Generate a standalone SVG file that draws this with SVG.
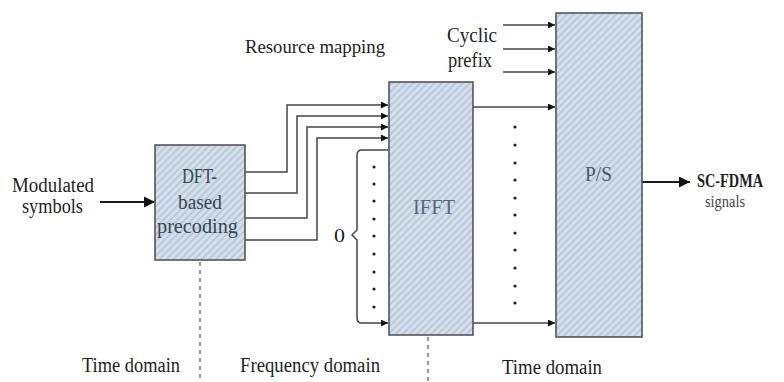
<svg xmlns="http://www.w3.org/2000/svg" width="784" height="382" viewBox="0 0 784 382" font-family="'Liberation Serif', 'Times New Roman', serif">
<style>
text{font-family:'Liberation Serif','Times New Roman',serif;fill:#1e1e1e}
.box{fill:url(#hatch);stroke:#555;stroke-width:1.6}
.c{fill:none;stroke:#444;stroke-width:1.5;marker-end:url(#ah)}
.big{fill:none;stroke:#1a1a1a;stroke-width:2.2;marker-end:url(#ahb)}
.dash{fill:none;stroke:#666;stroke-width:1.3;stroke-dasharray:4 4}
.dot{fill:#222}
</style>
<defs>
<pattern id="hatch" patternUnits="userSpaceOnUse" width="5" height="5" patternTransform="rotate(45)">
<rect width="5" height="5" fill="#d3dfeb"/>
<line x1="1" y1="0" x2="1" y2="5" stroke="#a9bccf" stroke-width="1.2"/>
</pattern>
<marker id="ah" viewBox="0 0 10 10" refX="10" refY="5" markerWidth="7" markerHeight="7" orient="auto" markerUnits="userSpaceOnUse">
<path d="M0,0 L10,5 L0,10 z" fill="#111"/>
</marker>
<marker id="ahb" viewBox="0 0 10 10" refX="10" refY="5" markerWidth="13" markerHeight="11" orient="auto" markerUnits="userSpaceOnUse">
<path d="M0,0 L10,5 L0,10 z" fill="#111"/>
</marker>
</defs>

<g id="connectors">
<path class="big" d="M100,202 H155"/>
<path class="c" d="M245,172 H287 V105 H388"/>
<path class="c" d="M245,193 H297 V116 H388"/>
<path class="c" d="M245,218 H307 V127 H388"/>
<path class="c" d="M245,240 H317 V138 H388"/>
<path class="c" d="M388,150 H362 Q357,150 357,155 V230 L352,235 L357,240 V318 Q357,323 362,323 H388"/>
<path class="c" d="M473,107 H555"/>
<path class="c" d="M473,323 H555"/>
<path class="c" d="M503,25 H555"/>
<path class="c" d="M503,49 H555"/>
<path class="c" d="M503,72 H555"/>
<path class="big" d="M642,182 H690"/>
<path class="dash" d="M200,262 V382"/>
<path class="dash" d="M428,337 V382"/>
</g>

<g id="dots1">
<circle class="dot" cx="374" cy="167" r="1.6"/>
<circle class="dot" cx="374" cy="184" r="1.6"/>
<circle class="dot" cx="374" cy="201" r="1.6"/>
<circle class="dot" cx="374" cy="219" r="1.6"/>
<circle class="dot" cx="374" cy="236" r="1.6"/>
<circle class="dot" cx="374" cy="254" r="1.6"/>
<circle class="dot" cx="374" cy="272" r="1.6"/>
<circle class="dot" cx="374" cy="289" r="1.6"/>
<circle class="dot" cx="374" cy="307" r="1.6"/>
</g>
<g id="dots2">
<circle class="dot" cx="515" cy="127" r="1.6"/>
<circle class="dot" cx="515" cy="145" r="1.6"/>
<circle class="dot" cx="515" cy="163" r="1.6"/>
<circle class="dot" cx="515" cy="180" r="1.6"/>
<circle class="dot" cx="515" cy="198" r="1.6"/>
<circle class="dot" cx="515" cy="215" r="1.6"/>
<circle class="dot" cx="515" cy="233" r="1.6"/>
<circle class="dot" cx="515" cy="250" r="1.6"/>
<circle class="dot" cx="515" cy="268" r="1.6"/>
<circle class="dot" cx="515" cy="286" r="1.6"/>
<circle class="dot" cx="515" cy="303" r="1.6"/>
</g>

<g id="dft">
<rect class="box" x="155" y="145" width="90" height="115"/>
<text x="182" y="183" font-size="20" textLength="35" lengthAdjust="spacingAndGlyphs" style="fill:#3a4652">DFT-</text>
<text x="178" y="209" font-size="20" textLength="44" lengthAdjust="spacingAndGlyphs" style="fill:#3a4652">based</text>
<text x="157" y="233" font-size="20" textLength="81" lengthAdjust="spacingAndGlyphs" style="fill:#3a4652">precoding</text>
</g>
<g id="ifft">
<rect class="box" x="389" y="82" width="84" height="253"/>
<text x="413" y="214" font-size="20" textLength="42" lengthAdjust="spacingAndGlyphs" style="fill:#56687a">IFFT</text>
</g>
<g id="ps">
<rect class="box" x="556" y="13" width="86" height="324"/>
<text x="585" y="181" font-size="20" textLength="27" lengthAdjust="spacingAndGlyphs" style="fill:#4a5a6a">P/S</text>
</g>

<g id="labels">
<text x="12" y="192" font-size="20" textLength="82" lengthAdjust="spacingAndGlyphs">Modulated</text>
<text x="22" y="213" font-size="20" textLength="61" lengthAdjust="spacingAndGlyphs">symbols</text>
<text x="245" y="53" font-size="19" textLength="140" lengthAdjust="spacingAndGlyphs">Resource mapping</text>
<text x="447" y="42" font-size="20" textLength="50" lengthAdjust="spacingAndGlyphs">Cyclic</text>
<text x="448" y="67" font-size="20" textLength="44" lengthAdjust="spacingAndGlyphs">prefix</text>
<text x="334" y="242" font-size="19" textLength="11" lengthAdjust="spacingAndGlyphs">0</text>
<text x="697" y="187" font-size="19" font-weight="bold" textLength="66" lengthAdjust="spacingAndGlyphs">SC-FDMA</text>
<text x="705" y="207" font-size="16" textLength="40" lengthAdjust="spacingAndGlyphs" style="fill:#444">signals</text>
<text x="82" y="372" font-size="20" textLength="98" lengthAdjust="spacingAndGlyphs">Time domain</text>
<text x="240" y="372" font-size="20" textLength="140" lengthAdjust="spacingAndGlyphs">Frequency domain</text>
<text x="502" y="374" font-size="20" textLength="100" lengthAdjust="spacingAndGlyphs">Time domain</text>
</g>
</svg>
